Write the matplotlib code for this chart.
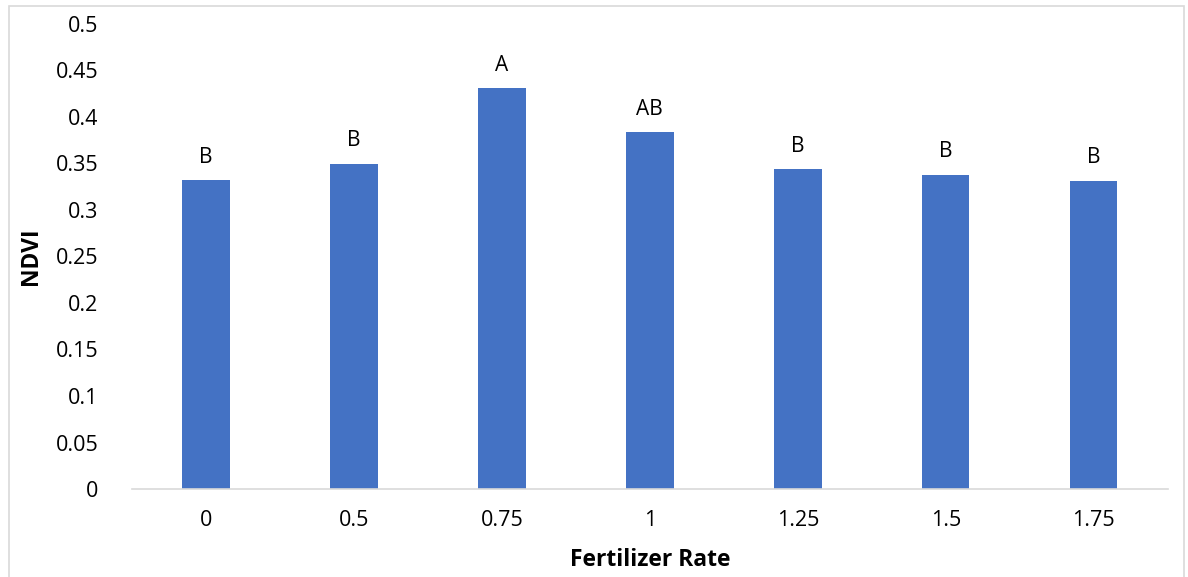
import numpy as np
import matplotlib.pyplot as plt
from matplotlib.patches import Rectangle

rates = ["0", "0.5", "0.75", "1", "1.25", "1.5", "1.75"]
ndvi = [0.332, 0.3495, 0.431, 0.3835, 0.344, 0.3376, 0.3312]
letters = ["B", "B", "A", "AB", "B", "B", "B"]

plt.rcParams['font.family'] = ['Open Sans', 'DejaVu Sans']

fig = plt.figure(figsize=(11.88, 5.77), dpi=100)
ax = fig.add_axes([0.111, 0.1525, 0.872, 0.806])

x = np.arange(len(rates))
bars = ax.bar(x, ndvi, width=0.32, color="#4472C4")
for b, lab in zip(bars, letters):
    ax.annotate(lab, (b.get_x() + b.get_width() / 2, b.get_height()),
                xytext=(0, 9), textcoords="offset points",
                ha="center", va="bottom", fontsize=15)

ax.set_xlim(-0.5, len(rates) - 0.5)
ax.set_ylim(0, 0.5)
ax.set_yticks(np.arange(0, 0.51, 0.05))
ax.set_yticklabels(["0", "0.05", "0.1", "0.15", "0.2", "0.25", "0.3",
                    "0.35", "0.4", "0.45", "0.5"])
ax.set_xticks(x)
ax.set_xticklabels(rates)
ax.tick_params(axis="both", length=0, labelsize=15.5)
ax.tick_params(axis="y", pad=24)
ax.tick_params(axis="x", pad=15)
for s in ["top", "right", "left"]:
    ax.spines[s].set_visible(False)
ax.spines["bottom"].set_color("#D9D9D9")
ax.spines["bottom"].set_linewidth(1.2)

ax.set_xlabel("Fertilizer Rate", fontsize=16.5, fontweight="bold", labelpad=12)
ax.set_ylabel("NDVI", fontsize=16.5, fontweight="bold", labelpad=9)

fig.patches.append(Rectangle((9 / 1188, -0.01), 1175 / 1188, 1 - 6 / 577 + 0.01,
                             transform=fig.transFigure, fill=False,
                             edgecolor="#D9D9D9", linewidth=1.2))

fig.savefig("out.png", dpi=100)
